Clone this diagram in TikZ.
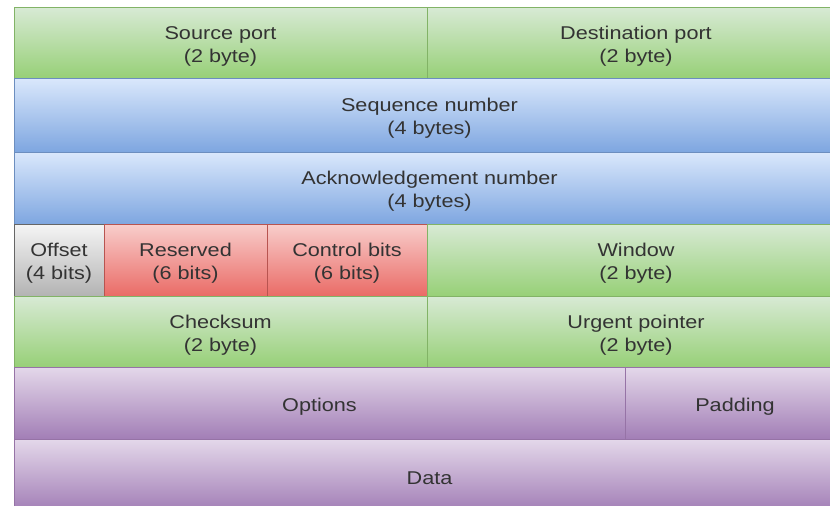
\documentclass[tikz,border=0pt]{standalone}
\usepackage{fontspec}
\newfontfamily\cellfont[FakeStretch=1.17]{Liberation Sans}
\definecolor{gtop}{HTML}{D8EAD5}
\definecolor{gbot}{HTML}{97D077}
\definecolor{gline}{HTML}{82B366}
\definecolor{btop}{HTML}{DAE8FC}
\definecolor{bbot}{HTML}{7EA6E0}
\definecolor{bline}{HTML}{6C8EBF}
\definecolor{rtop}{HTML}{F8CECC}
\definecolor{rbot}{HTML}{EA6B66}
\definecolor{rline}{HTML}{B85450}
\definecolor{ktop}{HTML}{F5F5F5}
\definecolor{kbot}{HTML}{B3B3B3}
\definecolor{kline}{HTML}{666666}
\definecolor{ptop}{HTML}{E4D8EA}
\definecolor{pbot}{HTML}{A27EB6}
\definecolor{pline}{HTML}{9673A6}
\definecolor{ink}{HTML}{333333}
\begin{document}
\begin{tikzpicture}[x=1pt,y=-1pt,
  celltext/.style={inner sep=0pt, yshift=-3.5pt, align=center, text=ink,
    font=\cellfont\fontsize{18.5}{23}\selectfont},
  cell/.style={anchor=north west, inner sep=0pt, outer sep=0pt, line width=0.8pt,
    label={[celltext]center:{#1}}},
  greencell/.style={cell=#1, top color=gtop, bottom color=gbot, draw=gline},
  bluecell/.style={cell=#1, top color=btop, bottom color=bbot, draw=bline},
  redcell/.style={cell=#1, top color=rtop, bottom color=rbot, draw=rline},
  greycell/.style={cell=#1, top color=ktop, bottom color=kbot, draw=kline},
  purplecell/.style={cell=#1, top color=ptop, bottom color=pbot, draw=pline},
  sz/.style 2 args={minimum width=#1pt, minimum height=#2pt}]
\useasboundingbox (0,0) rectangle (830,506);
\fill[white] (0,0) rectangle (830,506);
\clip (0,0) rectangle (830,506);
% row 1: ports
\node[greencell={Source port\\(2 byte)}, sz={413}{71}] (src) at (14,7) {};
\node[greencell={Destination port\\(2 byte)}, sz={418}{71}] (dst) at (427,7) {};
% rows 2-3: sequence and acknowledgement numbers
\node[bluecell={Sequence number\\(4 bytes)}, sz={831}{74}] (seq) at (14,78) {};
\node[bluecell={Acknowledgement number\\(4 bytes)}, sz={831}{72}] (ack) at (14,152) {};
% row 4: offset, reserved, control bits, window
\node[greycell={Offset\\(4 bits)}, sz={90}{72}] (off) at (14,224) {};
\node[redcell={Reserved\\(6 bits)}, sz={163}{72}] (res) at (104,224) {};
\node[redcell={Control bits\\(6 bits)}, sz={160}{72}] (ctl) at (267,224) {};
\node[greencell={Window\\(2 byte)}, sz={418}{72}] (win) at (427,224) {};
% row 5: checksum and urgent pointer
\node[greencell={Checksum\\(2 byte)}, sz={413}{71}] (chk) at (14,296) {};
\node[greencell={Urgent pointer\\(2 byte)}, sz={418}{71}] (urg) at (427,296) {};
% row 6: options and padding
\node[purplecell={Options}, sz={611}{72}] (opt) at (14,367) {};
\node[purplecell={Padding}, sz={220}{72}] (pad) at (625,367) {};
% row 7: payload
\node[purplecell={Data}, sz={831}{72}] (data) at (14,439) {};
\end{tikzpicture}
\end{document}
